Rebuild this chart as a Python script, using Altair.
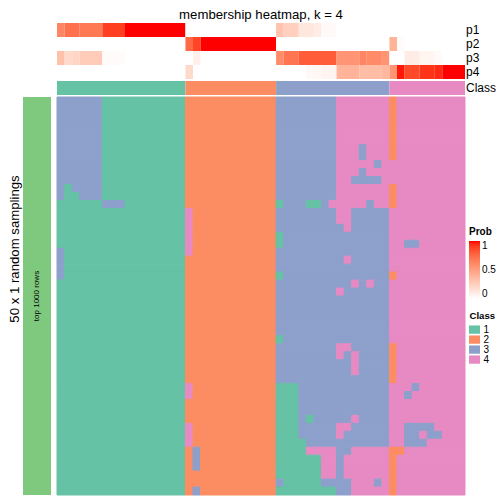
import altair as alt
import pandas as pd

FONT = "Liberation Sans"
TITLE = "membership heatmap, k = 4"
ROW_TITLE = "50 x 1 random samplings"
SLICE_LABEL = "top 1000 rows"
ANN_COLOR = "#7FC97F"

CLASSES = ["1", "2", "3", "4"]
CLASS_COLORS = ["#66C2A5", "#FC8D62", "#8DA0CB", "#E78AC3"]
P_ROWS = ["p1", "p2", "p3", "p4"]
N_ROWS = 50
N_COLS = 54

# membership probabilities per sample (54 columns)
p1 = [0.62, 0.72, 0.72, 0.68, 0.68, 0.68, 0.9, 0.9, 0.9, 1, 1, 1, 1, 1, 1, 1, 1,
      0, 0, 0, 0, 0, 0, 0, 0, 0, 0, 0, 0,
      0.32, 0.25, 0.25, 0.13, 0.13, 0.1, 0.03, 0.03,
      0, 0, 0, 0, 0, 0, 0,
      0, 0, 0, 0, 0, 0, 0, 0, 0, 0]
p2 = [0, 0, 0, 0, 0, 0, 0, 0, 0, 0, 0, 0, 0, 0, 0, 0, 0,
      0.75, 0.88, 1, 1, 1, 1, 1, 1, 1, 1, 1, 1,
      0, 0, 0, 0, 0, 0, 0, 0,
      0, 0, 0, 0, 0, 0, 0,
      0.4, 0.02, 0, 0, 0, 0, 0, 0, 0, 0]
p3 = [0.33, 0.2, 0.22, 0.27, 0.27, 0.27, 0.02, 0.02, 0.02, 0, 0, 0, 0, 0, 0, 0, 0,
      0, 0.08, 0, 0, 0, 0, 0, 0, 0, 0, 0, 0,
      0.6, 0.7, 0.7, 0.8, 0.8, 0.8, 0.8, 0.8,
      0.55, 0.55, 0.55, 0.62, 0.6, 0.6, 0.55,
      0, 0, 0.1, 0.1, 0.05, 0.05, 0.02, 0, 0, 0]
p4 = [0, 0, 0, 0, 0, 0, 0, 0, 0, 0, 0, 0, 0, 0, 0, 0, 0,
      0.2, 0, 0, 0, 0, 0, 0, 0, 0, 0, 0, 0,
      0, 0, 0, 0, 0.04, 0.04, 0.06, 0.06,
      0.4, 0.4, 0.4, 0.35, 0.35, 0.35, 0.38,
      0.55, 0.98, 0.87, 0.87, 0.93, 0.93, 0.95, 1, 1, 1]

# consensus class per column
class_row = list("11111111111111111" + "222222222222" + "333333333333333" + "4444444444")

# class of each column in the first sampling rows
base_sampling = list("11111111111111111" + "222222222222" + "33333333" + "4444444" + "4" + "444444444")

# cells that differ: (first row, last row, first col, last col, class)
patches = [
    (0, 10, 0, 5, "3"), (11, 11, 0, 0, "3"), (11, 11, 2, 5, "3"),
    (12, 12, 0, 0, "3"), (12, 12, 3, 5, "3"), (13, 13, 6, 8, "3"),
    (19, 22, 0, 0, "3"),
    (14, 19, 17, 17, "4"), (36, 37, 17, 17, "4"), (41, 43, 17, 17, "4"),
    (44, 46, 18, 18, "3"), (49, 49, 18, 18, "3"),
    (0, 7, 44, 44, "2"), (11, 13, 44, 44, "2"), (22, 22, 44, 44, "2"),
    (31, 35, 44, 44, "2"), (44, 49, 44, 44, "2"), (44, 44, 45, 45, "2"),
    (6, 7, 40, 40, "3"), (8, 8, 42, 42, "3"), (9, 9, 40, 40, "3"),
    (10, 10, 39, 42, "3"), (13, 13, 41, 41, "3"),
    (13, 13, 29, 29, "1"), (13, 13, 33, 34, "1"), (13, 13, 36, 36, "4"),
    (14, 43, 39, 43, "3"), (23, 23, 39, 39, "4"), (23, 23, 41, 41, "4"),
    (32, 34, 39, 39, "4"), (40, 40, 39, 39, "4"),
    (16, 43, 37, 37, "3"), (24, 24, 37, 37, "4"), (31, 32, 37, 37, "4"),
    (41, 42, 37, 37, "4"),
    (17, 43, 38, 38, "3"), (20, 20, 38, 38, "4"), (31, 31, 38, 38, "4"),
    (41, 41, 38, 38, "4"),
    (44, 44, 37, 38, "3"), (45, 47, 37, 37, "3"), (48, 48, 35, 38, "3"),
    (48, 48, 42, 42, "3"), (49, 49, 37, 38, "3"),
    (17, 18, 29, 29, "1"), (22, 22, 29, 29, "1"), (30, 30, 29, 29, "1"),
    (36, 42, 29, 31, "1"), (40, 40, 33, 33, "1"), (43, 43, 29, 32, "1"),
    (44, 44, 29, 32, "1"), (44, 44, 33, 36, "4"), (45, 47, 29, 34, "1"),
    (45, 47, 35, 36, "4"), (48, 48, 29, 29, "3"), (48, 48, 30, 34, "1"),
    (49, 49, 29, 36, "1"),
    (18, 18, 46, 47, "3"), (36, 36, 47, 47, "3"), (37, 37, 46, 46, "3"),
    (41, 41, 46, 49, "3"), (42, 42, 46, 47, "3"), (42, 42, 49, 50, "3"),
    (43, 43, 46, 48, "3"),
]

grid = [list(base_sampling) for _ in range(N_ROWS)]
for r0, r1, c0, c1, k in patches:
    for r in range(r0, r1 + 1):
        for c in range(c0, c1 + 1):
            grid[r][c] = k


def runs(values):
    """Group neighbouring equal cells of one heatmap row into one rectangle."""
    out = []
    start = 0
    for i in range(1, len(values) + 1):
        if i == len(values) or values[i] != values[start]:
            out.append((start, i, values[start]))
            start = i
    return out


rows = list(range(N_ROWS))

main_df = pd.DataFrame(
    [{"row": r, "c0": a, "c1": b, "cls": v} for r in rows for a, b, v in runs(grid[r])]
)
prob_df = pd.DataFrame(
    [{"p": name, "c0": a, "c1": b, "val": v}
     for name, vals in zip(P_ROWS, [p1, p2, p3, p4]) for a, b, v in runs(vals)]
)
class_df = pd.DataFrame(
    [{"lab": "Class", "c0": a, "c1": b, "cls": v} for a, b, v in runs(class_row)]
)
ann_df = pd.DataFrame({"ann": [SLICE_LABEL], "r0": [0], "r1": [N_ROWS]})

# pixel layout inside the chart (chart origin = page (8, 8))
X_RANGE = [49, 457]
MAIN_Y = [89, 487]
P_Y = [15, 71]
CLASS_Y = [73, 87]
ANN_X = [15, 43]

class_scale = alt.Scale(domain=CLASSES, range=CLASS_COLORS)
prob_scale = alt.Scale(domain=[0, 1], range=["#FFFFFF", "#FF0000"], interpolate="lab")
col_scale = alt.Scale(domain=[0, N_COLS], range=X_RANGE, nice=False, zero=False)
p_yscale = alt.Scale(domain=P_ROWS, range=P_Y, paddingInner=0, paddingOuter=0)
c_yscale = alt.Scale(domain=["Class"], range=CLASS_Y, paddingInner=0, paddingOuter=0)
row_scale = alt.Scale(domain=rows, range=MAIN_Y, paddingInner=0, paddingOuter=0)

prob_layer = alt.Chart(prob_df).mark_rect().encode(
    x=alt.X("c0:Q", scale=col_scale, axis=None), x2="c1:Q",
    y=alt.Y("p:N", scale=p_yscale, axis=None),
    color=alt.Color("val:Q", scale=prob_scale, legend=alt.Legend(
        type="gradient", title="Prob", orient="none", legendX=461, legendY=219,
        direction="vertical", gradientLength=58, gradientThickness=11,
        values=[0, 0.5, 1], format="~g",
        titleFontSize=10, titleFont=FONT, titleFontWeight="bold", titleColor="black",
        labelFontSize=10, labelFont=FONT, labelColor="black", labelOffset=2,
        titlePadding=4, gradientStrokeWidth=0, padding=0)),
)

class_layer = alt.Chart(class_df).mark_rect().encode(
    x=alt.X("c0:Q", scale=col_scale, axis=None), x2="c1:Q",
    y=alt.Y("lab:N", scale=c_yscale, axis=None),
    color=alt.Color("cls:N", scale=class_scale, legend=None),
)

main_layer = alt.Chart(main_df).mark_rect(strokeWidth=1).encode(
    x=alt.X("c0:Q", scale=col_scale, axis=None), x2="c1:Q",
    y=alt.Y("row:O", scale=row_scale, axis=None),
    color=alt.Color("cls:N", scale=class_scale, legend=alt.Legend(
        title="Class", orient="none", legendX=461.5, legendY=303,
        symbolType="M-1.32,-1L1.32,-1L1.32,1L-1.32,1Z", symbolSize=69,
        symbolStrokeWidth=0, rowPadding=-2, labelOffset=4,
        titleFontSize=9.6, titleFont=FONT, titleFontWeight="bold", titleColor="black",
        labelFontSize=10, labelFont=FONT, labelColor="black", titlePadding=4, padding=0)),
    stroke=alt.Stroke("cls:N", scale=class_scale, legend=None),
)

ann_layer = alt.Chart(ann_df).mark_rect().encode(
    x=alt.X("ann:N", scale=alt.Scale(domain=[SLICE_LABEL], range=ANN_X,
                                     paddingInner=0, paddingOuter=0), axis=None),
    y=alt.Y("r0:Q", scale=alt.Scale(domain=[0, N_ROWS], range=MAIN_Y, nice=False,
                                    zero=False), axis=None),
    y2="r1:Q",
    color=alt.value(ANN_COLOR),
)

p_labels = alt.Chart(pd.DataFrame({"lab": P_ROWS})).mark_text(
    font=FONT, fontSize=12, align="left", baseline="middle", color="black"
).encode(
    x=alt.value(458),
    y=alt.Y("lab:N", scale=p_yscale, axis=None, bandPosition=0.5),
    text="lab:N",
)

c_label = alt.Chart(pd.DataFrame({"lab": ["Class"]})).mark_text(
    font=FONT, fontSize=12, align="left", baseline="middle", color="black"
).encode(
    x=alt.value(458),
    y=alt.Y("lab:N", scale=c_yscale, axis=None, bandPosition=0.5),
    text="lab:N",
)

title_layer = alt.Chart(pd.DataFrame({"t": [TITLE]})).mark_text(
    font=FONT, fontSize=13.2, align="center", baseline="top", color="black"
).encode(x=alt.value(253), y=alt.value(0.5), text="t:N")

row_title_layer = alt.Chart(pd.DataFrame({"t": [ROW_TITLE]})).mark_text(
    font=FONT, fontSize=13.2, align="center", baseline="middle", angle=270, color="black"
).encode(x=alt.value(6.5), y=alt.value(241), text="t:N")

slice_layer = alt.Chart(pd.DataFrame({"t": [SLICE_LABEL]})).mark_text(
    font=FONT, fontSize=8, align="center", baseline="middle", angle=270, color="black"
).encode(x=alt.value(29), y=alt.value(288), text="t:N")

chart = alt.layer(
    ann_layer, prob_layer, class_layer, main_layer,
    p_labels, c_label, title_layer, row_title_layer, slice_layer,
).resolve_scale(
    x="independent", y="independent", color="independent", stroke="independent"
).properties(
    width=488, height=488, padding=0,
    autosize=alt.AutoSizeParams(type="none"),
).configure_view(strokeWidth=0)

chart.save("out.html", embed_options={"renderer": "svg", "actions": False})
